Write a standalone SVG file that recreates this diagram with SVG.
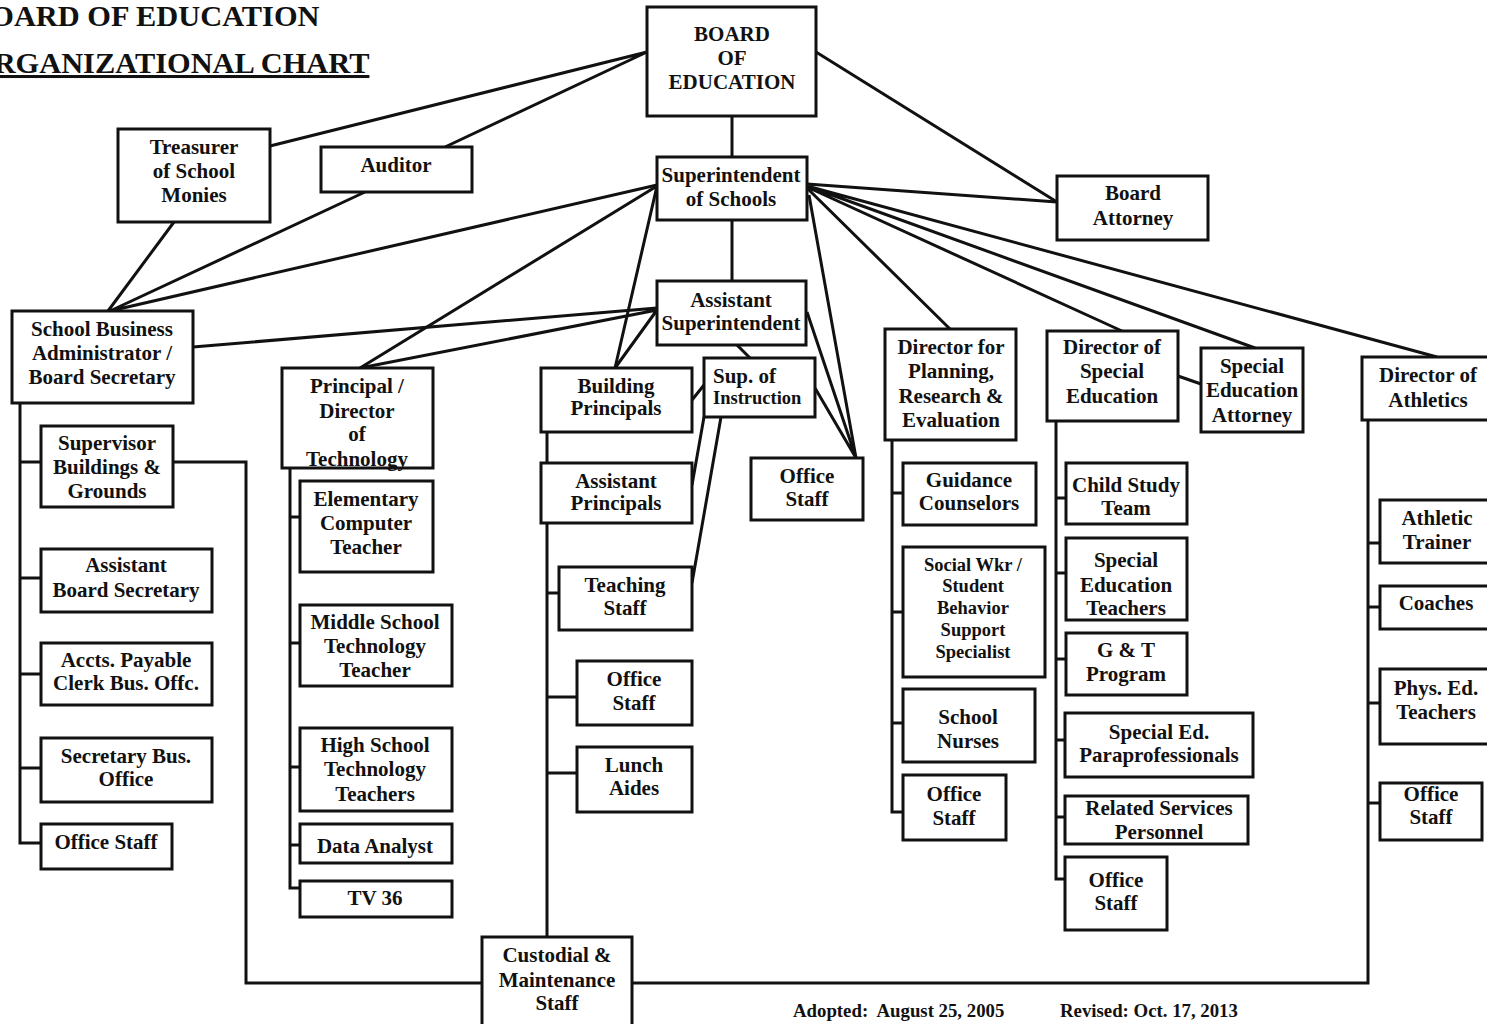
<svg xmlns="http://www.w3.org/2000/svg" width="1487" height="1024" viewBox="0 0 1487 1024">
<style>
.b{fill:#fff;stroke:#111;stroke-width:3}
.t{font-family:"Liberation Serif","Times New Roman",serif;font-weight:bold;font-size:21px;text-anchor:middle;fill:#111}
.s{font-size:18.5px}
.c{stroke:#111;stroke-width:3;fill:none;stroke-linejoin:miter}
.title{font-family:"Liberation Serif","Times New Roman",serif;font-weight:bold;font-size:30.4px;fill:#111}
.f{font-family:"Liberation Serif","Times New Roman",serif;font-weight:bold;font-size:18.8px;fill:#111}
</style>
<rect width="1487" height="1024" fill="#fff"/>
<g id="title">
<text class="title" x="-30" y="26">BOARD OF EDUCATION</text>
<text class="title" x="-30" y="73" text-decoration="underline">ORGANIZATIONAL CHART</text>
</g>
<g id="connectors">
<path class="c" d="M732 116V157M732 220V281"/>
<path class="c" d="M647 52L270 146M647 52L445 147M816 52L1057 202"/>
<path class="c" d="M174 222L108 311M365 192L110 311M657 185L110 311"/>
<path class="c" d="M657 186L360 368M657 186L615 368"/>
<path class="c" d="M807 184L1057 202M807 186L1437 357M807 186L1255 348M807 187L1122 331M807 188L950 329M809 195L856 458"/>
<path class="c" d="M657 308L193 347M657 310L360 368M657 310L615 368"/>
<path class="c" d="M807 312L856 458M815 388L856 458M737 345L750 358M704 385L692 400M704 417L692 485M721 417L692 583"/>
<path class="c" d="M1178 376L1201 384"/>
<path class="c" d="M20 403V843H41M20 462H41M20 578H41M20 674H41M20 768H41"/>
<path class="c" d="M173 462H246V983H482M632 983H1368V420"/>
<path class="c" d="M290 468V888H300M290 517H300M290 643H300M290 767H300M290 845H300"/>
<path class="c" d="M547 432V463M547 523V937M547 593H559M547 697H577M547 773H577"/>
<path class="c" d="M892 440V812H903M892 493H903M892 612H903M892 723H903"/>
<path class="c" d="M1056 421V879H1065M1056 498H1066M1056 573H1066M1056 659H1066M1056 740H1065M1056 817H1065"/>
<path class="c" d="M1368 543H1380M1368 607H1380M1368 703H1380M1368 803H1380"/>
</g>
<g id="board"><rect class="b" x="647" y="7" width="169" height="109"/><text class="t"><tspan x="732" y="41">BOARD</tspan><tspan x="732" y="65">OF</tspan><tspan x="732" y="89">EDUCATION</tspan></text></g>
<g id="superintendent"><rect class="b" x="657" y="157" width="150" height="63"/><text class="t"><tspan x="731" y="182">Superintendent</tspan><tspan x="731" y="206">of Schools</tspan></text></g>
<g id="treasurer"><rect class="b" x="118" y="129" width="152" height="93"/><text class="t"><tspan x="194" y="154">Treasurer</tspan><tspan x="194" y="178">of School</tspan><tspan x="194" y="202">Monies</tspan></text></g>
<g id="auditor"><rect class="b" x="321" y="147" width="151" height="45"/><text class="t" x="396" y="172">Auditor</text></g>
<g id="board-attorney"><rect class="b" x="1057" y="176" width="151" height="64"/><text class="t"><tspan x="1133" y="200">Board</tspan><tspan x="1133" y="225">Attorney</tspan></text></g>
<g id="sba"><rect class="b" x="12" y="311" width="181" height="92"/><text class="t"><tspan x="102" y="336">School Business</tspan><tspan x="102" y="360">Administrator /</tspan><tspan x="102" y="384">Board Secretary</tspan></text></g>
<g id="principal-tech"><rect class="b" x="282" y="368" width="151" height="100"/><text class="t"><tspan x="357" y="393">Principal /</tspan><tspan x="357" y="418">Director</tspan><tspan x="357" y="441">of</tspan><tspan x="357" y="466">Technology</tspan></text></g>
<g id="asst-super"><rect class="b" x="657" y="281" width="149" height="64"/><text class="t"><tspan x="731" y="307">Assistant</tspan><tspan x="731" y="330">Superintendent</tspan></text></g>
<g id="building-principals"><rect class="b" x="541" y="368" width="151" height="64"/><text class="t"><tspan x="616" y="393">Building</tspan><tspan x="616" y="415">Principals</tspan></text></g>
<g id="sup-instruction"><rect class="b" x="704" y="358" width="111" height="59"/><text class="t" style="text-anchor:start"><tspan x="713" y="383">Sup. of</tspan><tspan x="713" y="404" style="font-size:18.5px">Instruction</tspan></text></g>
<g id="office-staff-asst"><rect class="b" x="751" y="458" width="112" height="62"/><text class="t"><tspan x="807" y="483">Office</tspan><tspan x="807" y="506">Staff</tspan></text></g>
<g id="asst-principals"><rect class="b" x="541" y="463" width="151" height="60"/><text class="t"><tspan x="616" y="488">Assistant</tspan><tspan x="616" y="510">Principals</tspan></text></g>
<g id="dir-planning"><rect class="b" x="885" y="329" width="131" height="111"/><text class="t"><tspan x="951" y="354">Director for</tspan><tspan x="951" y="378">Planning,</tspan><tspan x="951" y="403">Research &amp;</tspan><tspan x="951" y="427">Evaluation</tspan></text></g>
<g id="dir-special-ed"><rect class="b" x="1047" y="331" width="131" height="90"/><text class="t"><tspan x="1112" y="354">Director of</tspan><tspan x="1112" y="378">Special</tspan><tspan x="1112" y="403">Education</tspan></text></g>
<g id="special-ed-attorney"><rect class="b" x="1201" y="348" width="102" height="84"/><text class="t"><tspan x="1252" y="373">Special</tspan><tspan x="1252" y="397">Education</tspan><tspan x="1252" y="422">Attorney</tspan></text></g>
<g id="dir-athletics"><rect class="b" x="1362" y="357" width="140" height="63"/><text class="t"><tspan x="1428" y="382">Director of</tspan><tspan x="1428" y="407">Athletics</tspan></text></g>
<g id="supervisor-bg"><rect class="b" x="41" y="426" width="132" height="81"/><text class="t"><tspan x="107" y="450">Supervisor</tspan><tspan x="107" y="474">Buildings &amp;</tspan><tspan x="107" y="498">Grounds</tspan></text></g>
<g id="asst-board-sec"><rect class="b" x="41" y="549" width="171" height="63"/><text class="t"><tspan x="126" y="572">Assistant</tspan><tspan x="126" y="597">Board Secretary</tspan></text></g>
<g id="accts-payable"><rect class="b" x="41" y="643" width="171" height="62"/><text class="t"><tspan x="126" y="667">Accts. Payable</tspan><tspan x="126" y="690">Clerk Bus. Offc.</tspan></text></g>
<g id="secretary-bus"><rect class="b" x="41" y="738" width="171" height="64"/><text class="t"><tspan x="126" y="763">Secretary Bus.</tspan><tspan x="126" y="786">Office</tspan></text></g>
<g id="office-staff-sba"><rect class="b" x="41" y="824" width="131" height="45"/><text class="t" x="106" y="849">Office Staff</text></g>
<g id="elem-computer"><rect class="b" x="300" y="481" width="133" height="91"/><text class="t"><tspan x="366" y="506">Elementary</tspan><tspan x="366" y="530">Computer</tspan><tspan x="366" y="554">Teacher</tspan></text></g>
<g id="middle-school-tech"><rect class="b" x="300" y="605" width="152" height="81"/><text class="t"><tspan x="375" y="629">Middle School</tspan><tspan x="375" y="653">Technology</tspan><tspan x="375" y="677">Teacher</tspan></text></g>
<g id="high-school-tech"><rect class="b" x="300" y="728" width="152" height="83"/><text class="t"><tspan x="375" y="752">High School</tspan><tspan x="375" y="776">Technology</tspan><tspan x="375" y="801">Teachers</tspan></text></g>
<g id="data-analyst"><rect class="b" x="300" y="824" width="152" height="39"/><text class="t" x="375" y="853">Data Analyst</text></g>
<g id="tv36"><rect class="b" x="300" y="881" width="152" height="36"/><text class="t" x="375" y="905">TV 36</text></g>
<g id="teaching-staff"><rect class="b" x="559" y="567" width="133" height="63"/><text class="t"><tspan x="625" y="592">Teaching</tspan><tspan x="625" y="615">Staff</tspan></text></g>
<g id="office-staff-bp"><rect class="b" x="577" y="661" width="115" height="64"/><text class="t"><tspan x="634" y="686">Office</tspan><tspan x="634" y="710">Staff</tspan></text></g>
<g id="lunch-aides"><rect class="b" x="577" y="747" width="115" height="65"/><text class="t"><tspan x="634" y="772">Lunch</tspan><tspan x="634" y="795">Aides</tspan></text></g>
<g id="custodial"><rect class="b" x="482" y="937" width="150" height="95"/><text class="t"><tspan x="557" y="962">Custodial &amp;</tspan><tspan x="557" y="987">Maintenance</tspan><tspan x="557" y="1010">Staff</tspan></text></g>
<g id="guidance"><rect class="b" x="903" y="463" width="133" height="62"/><text class="t"><tspan x="969" y="487">Guidance</tspan><tspan x="969" y="510">Counselors</tspan></text></g>
<g id="social-worker"><rect class="b" x="903" y="547" width="142" height="130"/><text class="t s"><tspan x="973" y="571">Social Wkr /</tspan><tspan x="973" y="592">Student</tspan><tspan x="973" y="614">Behavior</tspan><tspan x="973" y="636">Support</tspan><tspan x="973" y="658">Specialist</tspan></text></g>
<g id="school-nurses"><rect class="b" x="903" y="689" width="132" height="73"/><text class="t"><tspan x="968" y="724">School</tspan><tspan x="968" y="748">Nurses</tspan></text></g>
<g id="office-staff-pl"><rect class="b" x="903" y="775" width="103" height="65"/><text class="t"><tspan x="954" y="801">Office</tspan><tspan x="954" y="825">Staff</tspan></text></g>
<g id="child-study"><rect class="b" x="1066" y="463" width="121" height="61"/><text class="t"><tspan x="1126" y="492">Child Study</tspan><tspan x="1126" y="515">Team</tspan></text></g>
<g id="special-ed-teachers"><rect class="b" x="1066" y="538" width="121" height="82"/><text class="t"><tspan x="1126" y="567">Special</tspan><tspan x="1126" y="592">Education</tspan><tspan x="1126" y="615">Teachers</tspan></text></g>
<g id="g-t-program"><rect class="b" x="1066" y="633" width="121" height="62"/><text class="t"><tspan x="1126" y="657">G &amp; T</tspan><tspan x="1126" y="681">Program</tspan></text></g>
<g id="special-ed-para"><rect class="b" x="1065" y="713" width="188" height="64"/><text class="t"><tspan x="1159" y="739">Special Ed.</tspan><tspan x="1159" y="762">Paraprofessionals</tspan></text></g>
<g id="related-services"><rect class="b" x="1065" y="796" width="183" height="48"/><text class="t"><tspan x="1159" y="815">Related Services</tspan><tspan x="1159" y="839">Personnel</tspan></text></g>
<g id="office-staff-se"><rect class="b" x="1065" y="857" width="102" height="73"/><text class="t"><tspan x="1116" y="887">Office</tspan><tspan x="1116" y="910">Staff</tspan></text></g>
<g id="athletic-trainer"><rect class="b" x="1380" y="500" width="120" height="63"/><text class="t"><tspan x="1437" y="525">Athletic</tspan><tspan x="1437" y="549">Trainer</tspan></text></g>
<g id="coaches"><rect class="b" x="1380" y="586" width="120" height="43"/><text class="t" x="1436" y="610">Coaches</text></g>
<g id="phys-ed"><rect class="b" x="1380" y="669" width="120" height="75"/><text class="t"><tspan x="1436" y="695">Phys. Ed.</tspan><tspan x="1436" y="719">Teachers</tspan></text></g>
<g id="office-staff-ath"><rect class="b" x="1380" y="783" width="102" height="57"/><text class="t"><tspan x="1431" y="801">Office</tspan><tspan x="1431" y="824">Staff</tspan></text></g>
<g id="footer">
<text class="f" x="793" y="1017" xml:space="preserve">Adopted:  August 25, 2005</text>
<text class="f" x="1060" y="1017">Revised: Oct. 17, 2013</text>
</g>
</svg>
